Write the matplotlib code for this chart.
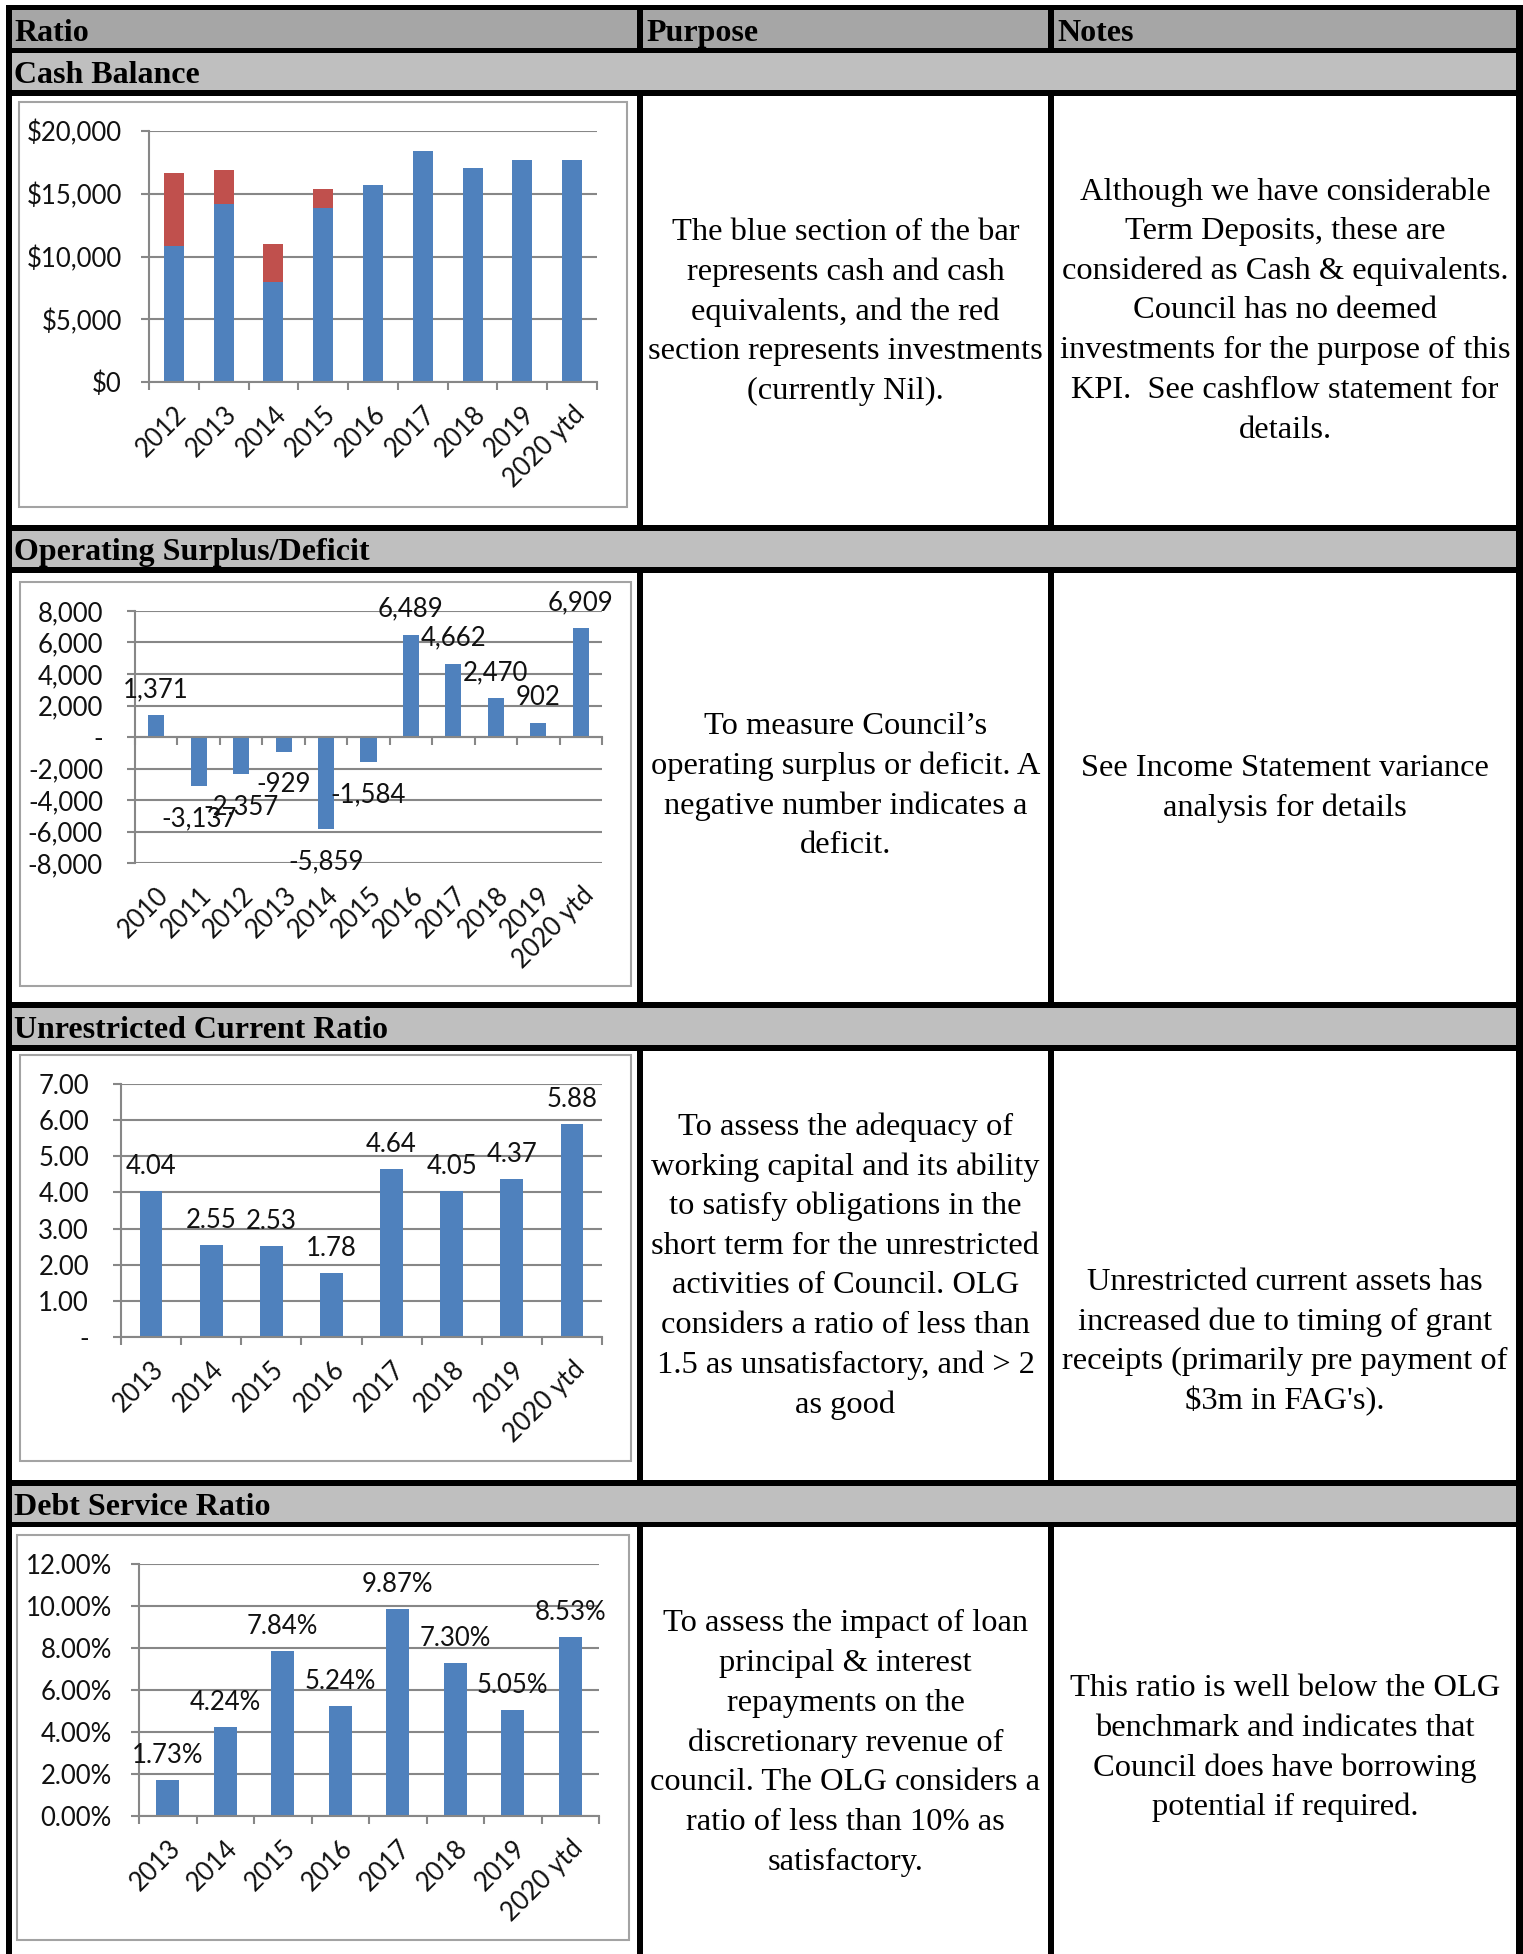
import matplotlib
matplotlib.use('Agg')
import matplotlib.pyplot as plt
from matplotlib.patches import Rectangle
from matplotlib.ticker import FuncFormatter
import numpy as np

W, H = 1523, 1954

# ---- data ----
cash_years = ['2012', '2013', '2014', '2015', '2016', '2017', '2018', '2019', '2020 ytd']
cash_equiv = [10800, 14170, 7970, 13900, 15680, 18380, 17030, 17700, 17720]
cash_invest = [5830, 2730, 3000, 1460, 0, 0, 0, 0, 0]

op_years = ['2010', '2011', '2012', '2013', '2014', '2015', '2016', '2017', '2018', '2019', '2020 ytd']
op_result = [1371, -3137, -2357, -929, -5859, -1584, 6489, 4662, 2470, 902, 6909]

ratio_years = ['2013', '2014', '2015', '2016', '2017', '2018', '2019', '2020 ytd']
current_ratio = [4.04, 2.55, 2.53, 1.78, 4.64, 4.05, 4.37, 5.88]
debt_ratio = [1.73, 4.24, 7.84, 5.24, 9.87, 7.30, 5.05, 8.53]

headers = ['Ratio', 'Purpose', 'Notes']
sections = ['Cash Balance', 'Operating Surplus/Deficit', 'Unrestricted Current Ratio', 'Debt Service Ratio']

purpose = [
    ['The blue section of the bar', 'represents cash and cash', 'equivalents, and the red',
     'section represents investments', '(currently Nil).'],
    ['To measure Council\u2019s', 'operating surplus or deficit. A', 'negative number indicates a', 'deficit.'],
    ['To assess the adequacy of', 'working capital and its ability', 'to satisfy obligations in the',
     'short term for the unrestricted', 'activities of Council. OLG', 'considers a ratio of less than',
     '1.5 as unsatisfactory, and > 2', 'as good'],
    ['To assess the impact of loan', 'principal & interest', 'repayments on the', 'discretionary revenue of',
     'council. The OLG considers a', 'ratio of less than 10% as', 'satisfactory.'],
]
notes = [
    ['Although we have considerable', 'Term Deposits, these are', 'considered as Cash & equivalents.',
     'Council has no deemed', 'investments for the purpose of this', 'KPI.  See cashflow statement for',
     'details.'],
    ['See Income Statement variance', 'analysis for details'],
    ['Unrestricted current assets has', 'increased due to timing of grant',
     'receipts (primarily pre payment of', "$3m in FAG's)."],
    ['This ratio is well below the OLG', 'benchmark and indicates that', 'Council does have borrowing',
     'potential if required.'],
]

# ---- layout (pixels) ----
band_y = [(53, 90), (531, 567), (1008, 1045), (1486, 1522)]
row_y = [(96, 525), (573, 1002), (1051, 1480), (1527, 1954)]
black_h = [(5, 10), (48, 53), (90, 96), (525, 531), (567, 573), (1002, 1008), (1045, 1051), (1480, 1486), (1522, 1527)]
dividers = [(637, 643), (1048, 1054)]
purpose_cy = [312, 786, 1266, 1743]
notes_cy = [311, 788, 1342, 1748]
chart_box = [(19, 102, 627, 507), (20, 582, 631, 986), (20, 1055, 631, 1461), (17, 1535, 629, 1940)]
plot_box = [(149, 131, 597, 382), (135, 611, 602, 863), (121, 1084, 602, 1337), (139, 1564, 599, 1816)]

BLUE = '#4F81BD'
RED = '#C0504D'
GRID = '#878787'
TXT = '#111111'
SERIF = 'Liberation Serif'
SANS = 'Lato'
CHART_FS = 18.5
BODY_FS = 23.4
HEAD_FS = 23

fig = plt.figure(figsize=(W / 100, H / 100), dpi=100)
bg = fig.add_axes([0, 0, 1, 1])
bg.set_xlim(0, W)
bg.set_ylim(H, 0)
bg.axis('off')


def block(x0, y0, x1, y1, color):
    bg.add_patch(Rectangle((x0, y0), x1 - x0, y1 - y0, facecolor=color, edgecolor='none'))


# table bands and rules
block(12, 10, 1516, 48, '#a6a6a6')
for y0, y1 in band_y:
    block(12, y0, 1516, y1, '#bfbfbf')
for y0, y1 in black_h:
    block(6, y0, 1523, y1, 'black')
block(6, 5, 12, H, 'black')
block(1516, 5, 1523, H, 'black')
for x0, x1 in dividers:
    block(x0, 10, x1, 48, 'black')
    for y0, y1 in row_y:
        block(x0, y0, x1, y1, 'black')

# header texts
for txt, x in zip(headers, [14, 646, 1057]):
    bg.text(x, 41, txt, fontsize=HEAD_FS, fontweight='bold', family=SERIF, va='baseline', ha='left')
for txt, (y0, y1) in zip(sections, band_y):
    bg.text(14, y1 - 7, txt, fontsize=HEAD_FS, fontweight='bold', family=SERIF, va='baseline', ha='left')


def cell_text(lines, cx, cy, step=39.7):
    n = len(lines)
    for i, line in enumerate(lines):
        y = cy + (i - (n - 1) / 2) * step
        bg.text(cx, y, line, fontsize=BODY_FS, family=SERIF, ha='center', va='center', color='black')


for i in range(4):
    cell_text(purpose[i], 845.5, purpose_cy[i])
    cell_text(notes[i], 1285, notes_cy[i])

# chart frames
for x0, y0, x1, y1 in chart_box:
    bg.add_patch(Rectangle((x0, y0), x1 - x0, y1 - y0, facecolor='white', edgecolor='#a3a3a3', lw=1.5))


def px_axes(box):
    x0, y0, x1, y1 = box
    ax = fig.add_axes([x0 / W, 1 - y1 / H, (x1 - x0) / W, (y1 - y0) / H])
    ax.patch.set_alpha(0)
    return ax


def style(ax, labels, ylim, yticks, yfmt, ypad, zero_axis=False):
    n = len(labels)
    ax.set_xlim(-0.5, n - 0.5)
    ax.set_ylim(*ylim)
    ax.set_yticks(yticks)
    ax.yaxis.set_major_formatter(FuncFormatter(yfmt))
    ax.grid(axis='y', color=GRID, lw=1.5)
    ax.set_axisbelow(True)
    for s in ['top', 'right']:
        ax.spines[s].set_visible(False)
    for s in ['left', 'bottom']:
        ax.spines[s].set_color(GRID)
        ax.spines[s].set_linewidth(1.5)
    ax.tick_params(axis='y', length=5.8, width=1.5, color=GRID, pad=ypad,
                   labelsize=CHART_FS, labelcolor=TXT)
    ax.set_xticks(np.arange(n + 1) - 0.5, minor=True)
    ax.tick_params(axis='x', which='minor', length=5.8, width=1.5, color=GRID)
    ax.set_xticks(np.arange(n))
    if zero_axis:
        ax.spines['bottom'].set_position(('data', 0))
        ax.tick_params(axis='x', which='major', length=0, labelbottom=False)
        lab_ax = ax.secondary_xaxis(0)
        lab_ax.set_xticks(np.arange(n))
        lab_ax.spines['bottom'].set_visible(False)
    else:
        lab_ax = ax
    lab_ax.set_xticklabels(labels)
    lab_ax.tick_params(axis='x', which='major', length=0, pad=14, labelsize=CHART_FS, labelcolor=TXT)
    for t in lab_ax.get_xticklabels():
        t.set_rotation(45)
        t.set_ha('right')
        t.set_rotation_mode('anchor')
        t.set_family(SANS)
    for t in ax.get_yticklabels():
        t.set_family(SANS)


def value_labels(ax, x, vals, fmt, up=12, down=19):
    for xi, v in zip(x, vals):
        if v >= 0:
            ax.annotate(fmt(v), (xi, v), xytext=(0, up), textcoords='offset pixels',
                        ha='center', va='bottom', fontsize=CHART_FS, family=SANS, color=TXT)
        else:
            ax.annotate(fmt(v), (xi, v), xytext=(0, -down), textcoords='offset pixels',
                        ha='center', va='top', fontsize=CHART_FS, family=SANS, color=TXT)


# 1. Cash balance (stacked)
ax1 = px_axes(plot_box[0])
x1 = np.arange(len(cash_years))
ax1.bar(x1, cash_equiv, width=0.4, color=BLUE)
ax1.bar(x1, cash_invest, width=0.4, bottom=cash_equiv, color=RED)
style(ax1, cash_years, (0, 20000), np.arange(0, 20001, 5000),
      lambda v, p: '${:,.0f}'.format(v), 13.7)

# 2. Operating surplus / deficit
ax2 = px_axes(plot_box[1])
x2 = np.arange(len(op_years))
ax2.bar(x2, op_result, width=0.38, color=BLUE)
style(ax2, op_years, (-8000, 8000), np.arange(-8000, 8001, 2000),
      lambda v, p: '-' if v == 0 else '{:,.0f}'.format(v), 17.3, zero_axis=True)
value_labels(ax2, x2, op_result, lambda v: '{:,.0f}'.format(v), up=13, down=20)

# 3. Unrestricted current ratio
ax3 = px_axes(plot_box[2])
x3 = np.arange(len(ratio_years))
ax3.bar(x3, current_ratio, width=0.38, color=BLUE)
style(ax3, ratio_years, (0, 7), np.arange(0, 7.01, 1),
      lambda v, p: '-' if v == 0 else '{:.2f}'.format(v), 17.3)
value_labels(ax3, x3, current_ratio, lambda v: '{:.2f}'.format(v))

# 4. Debt service ratio
ax4 = px_axes(plot_box[3])
x4 = np.arange(len(ratio_years))
ax4.bar(x4, debt_ratio, width=0.4, color=BLUE)
style(ax4, ratio_years, (0, 12), np.arange(0, 12.01, 2),
      lambda v, p: '{:.2f}%'.format(v), 13.7)
value_labels(ax4, x4, debt_ratio, lambda v: '{:.2f}%'.format(v))

fig.savefig('out.png', dpi=100)
